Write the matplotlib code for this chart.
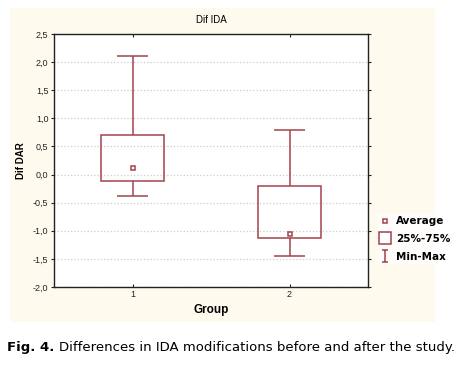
import matplotlib.pyplot as plt
from matplotlib.patches import Rectangle
from matplotlib.lines import Line2D
from matplotlib.path import Path

# data
groups = [1, 2]
means = [0.12, -1.06]
q25 = [-0.11, -1.12]
q75 = [0.70, -0.20]
mins = [-0.38, -1.45]
maxs = [2.10, 0.79]
yticks = [-2.0, -1.5, -1.0, -0.5, 0.0, 0.5, 1.0, 1.5, 2.0, 2.5]
ytick_labels = ["-2,0", "-1,5", "-1,0", "-0,5", "0,0", "0,5", "1,0", "1,5", "2,0", "2,5"]

RED = "#a3424b"
W, H = 469, 365

fig = plt.figure(figsize=(W / 100, H / 100), dpi=100)
fig.patch.set_facecolor("white")

# cream panel behind the chart
fig.patches.append(Rectangle((10 / W, 1 - 322 / H), 425 / W, 314 / H,
                             transform=fig.transFigure, facecolor="#fffaee",
                             edgecolor="none", zorder=-5))

ax = fig.add_axes([54 / W, 1 - 287 / H, 314 / W, 253 / H])
ax.set_zorder(2)
ax.set_facecolor("white")

ax.bar(groups, [t - b for t, b in zip(q75, q25)], bottom=q25, width=0.4,
       fill=False, edgecolor=RED, linewidth=1.1, zorder=3)
ax.vlines(groups, q75, maxs, color=RED, lw=1.1, zorder=3)
ax.vlines(groups, mins, q25, color=RED, lw=1.1, zorder=3)
ax.hlines(maxs, [g - 0.1 for g in groups], [g + 0.1 for g in groups], color=RED, lw=1.1, zorder=3)
ax.hlines(mins, [g - 0.1 for g in groups], [g + 0.1 for g in groups], color=RED, lw=1.1, zorder=3)
ax.plot(groups, means, ls="none", marker="s", ms=3.5, mfc="white", mec=RED, mew=1.1, zorder=4)

ax.set_xlim(0.5, 2.5)
ax.set_ylim(-2.0, 2.5)
ax.set_xticks(groups)
ax.set_xticklabels([str(g) for g in groups])
ax.set_yticks(yticks)
ax.set_yticklabels(ytick_labels)
ax.grid(axis="y", ls=":", color="#cccccc", lw=0.9, zorder=0)
ax.set_axisbelow(True)
ax.tick_params(labelsize=6.5, length=2, width=0.8, colors="#222222", pad=2,
               top=True, right=True, direction="in")
ax.tick_params(axis="y", which="both", left=True, direction="out")
for lbl in ax.get_xticklabels() + ax.get_yticklabels():
    lbl.set_fontfamily("Liberation Sans")
for s in ax.spines.values():
    s.set_color("#222222")
    s.set_linewidth(1.0)

ax.set_title("Dif IDA", fontsize=7, family="Liberation Sans", pad=8)
ax.set_ylabel("Dif DAR", fontsize=7, family="Liberation Sans", fontweight="bold", labelpad=5)
ax.set_xlabel("Group", fontsize=8.5, family="Liberation Sans", fontweight="bold", labelpad=4)

# I-beam marker for the min-max legend entry
ibeam = Path([(-0.5, 1), (0.5, 1), (0, 1), (0, -1), (-0.5, -1), (0.5, -1)],
             [Path.MOVETO, Path.LINETO, Path.MOVETO, Path.LINETO, Path.MOVETO, Path.LINETO])
handles = [
    Line2D([], [], ls="none", marker="s", ms=3.5, mfc="white", mec=RED, mew=1.1),
    Line2D([], [], ls="none", marker="s", ms=8, mfc="white", mec=RED, mew=1.1),
    Line2D([], [], ls="none", marker=ibeam, ms=8, mfc="none", mec=RED, mew=1.1),
]
leg = fig.legend(handles, ["Average", "25%-75%", "Min-Max"], loc="center left",
                 bbox_to_anchor=(378 / W, 1 - 239 / H), frameon=True, facecolor="white",
                 edgecolor="none", fancybox=False, handlelength=1.0, handletextpad=0.5,
                 labelspacing=0.75, borderpad=0.2, borderaxespad=0,
                 prop={"family": "DejaVu Sans", "weight": "bold", "size": 7.5})
leg.set_zorder(3)

cap_y = 1 - 348 / H
cap_bold = fig.text(7 / W, cap_y, "Fig. 4. ", fontsize=9.5, va="center", ha="left",
                    fontweight="bold")
fig.canvas.draw()
bb = cap_bold.get_window_extent()
fig.text(bb.x1 / fig.bbox.width, cap_y,
         "Differences in IDA modifications before and after the study.",
         fontsize=9.5, va="center", ha="left")

fig.savefig("out.png", dpi=100)
